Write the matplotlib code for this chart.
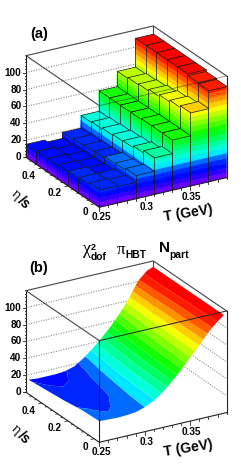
import colorsys
import numpy as np
import matplotlib
matplotlib.use('Agg')
import matplotlib.pyplot as plt
from matplotlib.collections import PolyCollection

plt.rcParams['font.family'] = ['Liberation Sans', 'DejaVu Sans']
plt.rcParams['font.weight'] = 'bold'

# binned chi2 (a): rows go from front (low eta/s) to back, columns are the T bins
T_edges = [0.25, 0.27, 0.29, 0.31, 0.33, 0.35, 0.37, 0.39]
eta_edges = [-0.04, 0.04, 0.12, 0.20, 0.28, 0.36, 0.44, 0.52]
bar_row0 = [21, 20, 28, 44, 60, 87, 108]
bar_row1 = [19, 19, 26, 41, 60, 85, 109]
bar_row2 = [18, 17, 25, 39, 60, 83, 111]
bar_row3 = [17, 16, 23, 38, 59, 81, 111]
bar_row4 = [16, 15, 22, 37, 59, 79, 111]
bar_row5 = [16, 14, 21, 36, 59, 78, 111]
bar_row6 = [16, 13, 20, 35, 59, 77, 111]
bars = np.array([bar_row0, bar_row1, bar_row2, bar_row3, bar_row4, bar_row5, bar_row6])

# smooth surface (b)
surf_T = [0.25, 0.26, 0.27, 0.28, 0.29, 0.30, 0.31, 0.32, 0.33, 0.34, 0.35, 0.36, 0.37, 0.38, 0.387]
surf_eta = [-0.04, 0.095, 0.23, 0.365, 0.50]
surf_row0 = [25, 24.5, 24, 24.5, 25.5, 29, 34, 42, 52, 63, 75, 87, 100, 110, 116]
surf_row1 = [24, 23, 22.5, 23, 24.5, 28, 33, 41, 51, 62, 74, 87, 101, 111, 116]
surf_row2 = [21, 20, 19.5, 20, 22, 26, 32, 40, 50, 61, 73, 86, 101, 112, 116]
surf_row3 = [19, 18, 17.5, 18, 20, 24, 30, 38, 48, 59, 72, 86, 102, 113, 116]
surf_row4 = [17, 16, 16, 16, 17, 20, 27, 36, 46, 57, 70, 85, 103, 113, 116]
surf = np.array([surf_row0, surf_row1, surf_row2, surf_row3, surf_row4])

z_ticks = [0, 20, 40, 60, 80, 100]
T_ticks = [0.25, 0.3, 0.35]
eta_ticks = [0, 0.2, 0.4]

T_range = (0.25, 0.39)
eta_range = (-0.04, 0.52)
z_max = 120

# 20 contour bands, hue at the right of (a)
n_bands = 20
band = 5.8
levels = [band * i for i in range(n_bands + 1)]
hue_z = [0, 14.5, 20, 26, 32, 59, 85, 110]
hue_deg = [272, 238, 232, 215, 185, 120, 60, 0]
palette = [colorsys.hsv_to_rgb(np.interp((i + 0.5) * band, hue_z, hue_deg) / 360., 1, 1) for i in range(n_bands)]


def proj(T, eta, z, dy):
    # oblique view of the box, returns pixel position
    f = (np.asarray(T, float) - T_range[0]) / (T_range[1] - T_range[0])
    e = (np.asarray(eta, float) - eta_range[0]) / (eta_range[1] - eta_range[0])
    x = 99.3 + 127.3 * f - 73.3 * e
    y = 207.3 + dy - 29.7 * f - 50.0 * e - 0.847 * np.asarray(z, float)
    return x, y


def band_color(h):
    return palette[min(int(h / band), n_bands - 1)]


def draw_face(ax, T1, eta1, T2, eta2, h, dy, zo):
    polys = []
    cols = []
    for k in range(n_bands):
        lo = levels[k]
        hi = levels[k + 1] if k < n_bands - 1 else 1000
        if lo >= h:
            break
        hi = min(hi, h)
        xa, ya = proj(T1, eta1, lo, dy)
        xb, yb = proj(T2, eta2, lo, dy)
        xc, yc = proj(T2, eta2, hi, dy)
        xd, yd = proj(T1, eta1, hi, dy)
        polys.append([(xa, ya), (xb, yb), (xc, yc), (xd, yd)])
        cols.append(palette[k])
    ax.add_collection(PolyCollection(polys, facecolors=cols, edgecolors=cols, linewidths=0.25, zorder=zo))


def draw_bars(ax, dy):
    zo = 3.0
    for j in range(len(eta_edges) - 2, -1, -1):
        for i in range(len(T_edges) - 2, -1, -1):
            h = bars[j, i]
            T1, T2 = T_edges[i], T_edges[i + 1]
            e1, e2 = eta_edges[j], eta_edges[j + 1]
            # face looking to the left and face looking to the right
            draw_face(ax, T1, e2, T1, e1, h, dy, zo)
            draw_face(ax, T1, e1, T2, e1, h, dy, zo)
            top = [proj(T1, e1, h, dy), proj(T2, e1, h, dy), proj(T2, e2, h, dy), proj(T1, e2, h, dy)]
            ax.add_collection(PolyCollection([top], facecolors=[band_color(h)], edgecolors='#1a1a1a',
                                             linewidths=0.5, zorder=zo))
            for t, e in [(T1, e1), (T2, e1), (T1, e2)]:
                x0, y0 = proj(t, e, 0, dy)
                x1, y1 = proj(t, e, h, dy)
                ax.plot([x0, x1], [y0, y1], color='#1a1a1a', lw=0.5, zorder=zo, solid_capstyle='butt')
            zo += 0.01


def draw_surface(ax, dy):
    tt, ee = np.meshgrid(surf_T, surf_eta)
    x, y = proj(tt, ee, surf, dy)
    ax.contourf(x, y, surf, levels=levels[:-1] + [1000], colors=palette, zorder=3, antialiased=True)


def draw_back(ax, dy):
    line = dict(color='#444444', lw=0.8, zorder=2)
    for z in z_ticks[1:]:
        a = proj(T_range[0], eta_range[1], z, dy)
        b = proj(T_range[1], eta_range[1], z, dy)
        c = proj(T_range[1], eta_range[0], z, dy)
        ax.plot([a[0], b[0], c[0]], [a[1], b[1], c[1]], color='#8c8c8c', lw=0.8, ls=(0, (1, 1.3)), zorder=1)
    a = proj(T_range[0], eta_range[1], z_max, dy)
    b = proj(T_range[1], eta_range[1], z_max, dy)
    c = proj(T_range[1], eta_range[0], z_max, dy)
    ax.plot([a[0], b[0], c[0]], [a[1], b[1], c[1]], **line)
    b0 = proj(T_range[1], eta_range[1], 0, dy)
    ax.plot([b[0], b0[0]], [b[1], b0[1]], **line)


def draw_front(ax, dy, panel_b):
    dark = dict(color='#222222', lw=0.8, zorder=10)
    fl0 = proj(T_range[0], eta_range[1], 0, dy)
    fc0 = proj(T_range[0], eta_range[0], 0, dy)
    fr0 = proj(T_range[1], eta_range[0], 0, dy)
    fl1 = proj(T_range[0], eta_range[1], z_max, dy)
    fc1 = proj(T_range[0], eta_range[0], z_max, dy)
    fr1 = proj(T_range[1], eta_range[0], z_max, dy)
    ax.plot([fl0[0], fc0[0], fr0[0]], [fl0[1], fc0[1], fr0[1]], **dark)
    ax.plot([fl0[0], fl1[0]], [fl0[1], fl1[1]], **dark)
    ax.plot([fr0[0], fr1[0]], [fr0[1], fr1[1]], **dark)
    # top front edges of the box
    ax.plot([fl1[0], fc1[0]], [fl1[1], fc1[1]], color='#444444', lw=0.8, zorder=2 if not panel_b else 10)
    ax.plot([fc1[0], fr1[0]], [fc1[1], fr1[1]], color='#222222', lw=0.7, alpha=1 if panel_b else 0.45, zorder=10)
    ax.plot([fc0[0], fc1[0]], [fc0[1], fc1[1]], color='#222222', lw=0.8, alpha=1 if panel_b else 0.5, zorder=10)

    # z axis ticks
    for z in np.arange(0, 117, 4):
        x, y = proj(T_range[0], eta_range[1], z, dy)
        size = 3.0 if z % 20 == 0 else 1.5
        ax.plot([x - size, x], [y, y], color='#222222', lw=0.6, zorder=10)
    for z in z_ticks:
        x, y = proj(T_range[0], eta_range[1], z, dy)
        ax.text(21.5, y, str(z), ha='right', va='center', fontsize=7.2, zorder=11)

    # T ticks and labels
    for t in np.arange(0.25, 0.3901, 0.01):
        x, y = proj(t, eta_range[0], 0, dy)
        size = 3.5 if abs(t * 100 % 5) < 1e-6 or abs(t * 100 % 5 - 5) < 1e-6 else 1.8
        ax.plot([x, x], [y, y + size], color='#222222', lw=0.6, zorder=10)
    T_pos = [(101, 216.7), (146.7, 206.7), (191.7, 196.7)]
    for t, p in zip(T_ticks, T_pos):
        ax.text(p[0], p[1] + dy, str(t), ha='center', va='center', fontsize=7.2, zorder=11)

    # eta/s ticks and labels
    for e in np.arange(0, 0.5201, 0.04):
        x, y = proj(T_range[0], e, 0, dy)
        size = 3.0 if round(e / 0.04) % 5 == 0 else 1.6
        ax.plot([x, x - size], [y, y + 0.8 * size * 0.3], color='#222222', lw=0.6, zorder=10)
    eta_pos = [(85, 211.7), (55, 193.3), (28.3, 176)]
    for e, p in zip(eta_ticks, eta_pos):
        ax.text(p[0], p[1] + dy, str(e), ha='center', va='center', fontsize=7.2, zorder=11)

    ax.text(188, 213 + dy, 'T (GeV)', ha='center', va='center', fontsize=10, rotation=9, zorder=11)
    ax.text(16, 195 + dy, '\u03b7', ha='center', va='center', fontsize=10.5, rotation=-42, zorder=11,
            family='Liberation Serif', weight='normal')
    ax.text(24, 202.5 + dy, '/s', ha='center', va='center', fontsize=10, rotation=-42, zorder=11)


fig = plt.figure(figsize=(2.41, 4.70), dpi=100)
ax = fig.add_axes([0, 0, 1, 1])
ax.set_xlim(0, 241)
ax.set_ylim(470, 0)
ax.axis('off')

draw_back(ax, 0)
draw_bars(ax, 0)
draw_front(ax, 0, False)

draw_back(ax, 235)
draw_surface(ax, 235)
draw_front(ax, 235, True)

ax.text(39, 34, '(a)', ha='center', va='center', fontsize=10.5)
ax.text(39, 268, '(b)', ha='center', va='center', fontsize=10.5)

serif = dict(family='Liberation Serif', weight='normal', ha='center', va='center')
ax.text(87, 250, '\u03c7', fontsize=13, **serif)
ax.text(93.5, 247, '2', ha='center', va='center', fontsize=6.5)
ax.text(99, 257, 'dof', ha='center', va='center', fontsize=7.4)
ax.text(121, 250, '\u03c0', fontsize=12, **serif)
ax.text(136, 255, 'HBT', ha='center', va='center', fontsize=7.4)
ax.text(164, 248, 'N', ha='center', va='center', fontsize=11)
ax.text(179.5, 255, 'part', ha='center', va='center', fontsize=7.4)

fig.savefig('out.png', dpi=100)
